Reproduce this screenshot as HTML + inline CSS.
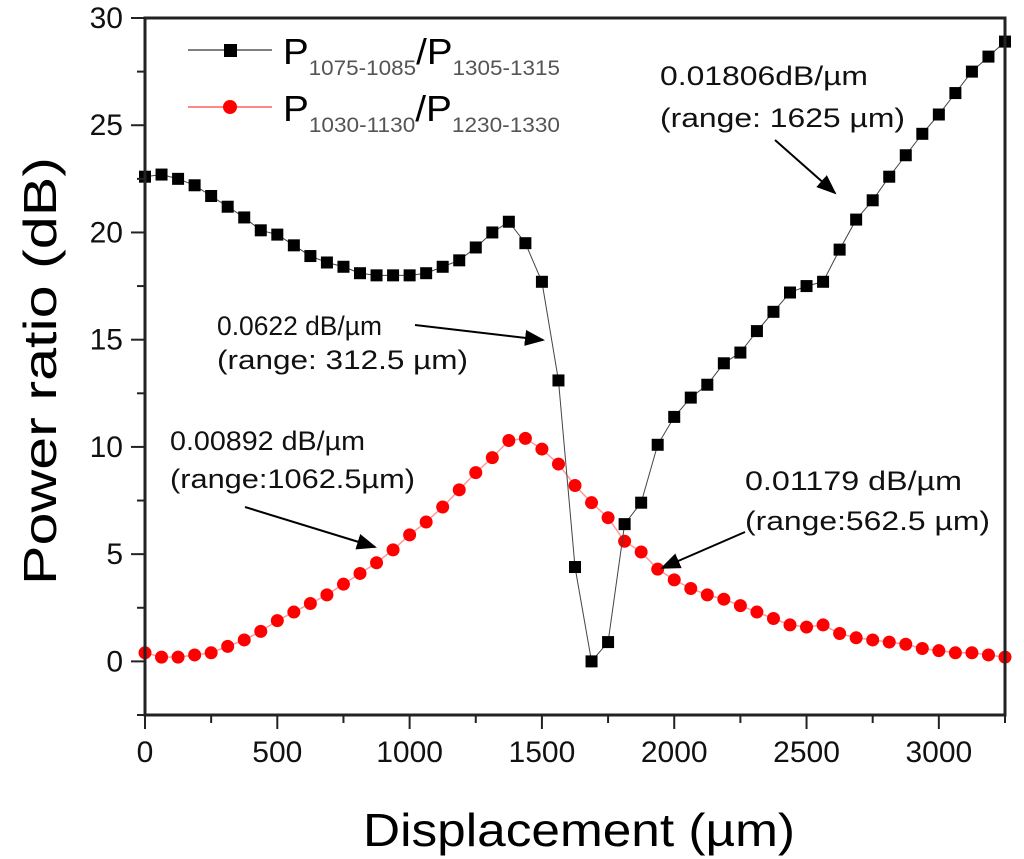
<!DOCTYPE html>
<html><head><meta charset="utf-8"><style>
html,body{margin:0;padding:0;background:#fff;}
svg{display:block;font-family:"Liberation Sans",Arial,sans-serif;}
</style></head><body>
<svg id="chart" width="1024" height="859" viewBox="0 0 1024 859">
<defs><marker id="ah" markerWidth="10" markerHeight="8" refX="9" refY="4" orient="auto"><path d="M0,0 L10,4 L0,8 z" fill="#000"/></marker></defs>
<g id="series"></g>
<g id="axes"></g>
<g>
  <g>
    <line x1="188" y1="50" x2="272" y2="50" stroke="#000" stroke-width="1"/>
    <rect x="224" y="44" width="13" height="13" fill="#000"/>
    <text x="283" y="64" font-size="36" fill="#000" textLength="277" lengthAdjust="spacingAndGlyphs">P<tspan font-size="21" fill="#555" dy="11">1075-1085</tspan><tspan dy="-11">/P</tspan><tspan font-size="21" fill="#555" dy="11">1305-1315</tspan></text>
  </g>
  <g>
    <line x1="188" y1="107" x2="272" y2="107" stroke="#f88" stroke-width="2"/>
    <circle cx="230" cy="107" r="7" fill="#f00"/>
    <text x="283" y="121" font-size="36" fill="#000" textLength="277" lengthAdjust="spacingAndGlyphs">P<tspan font-size="21" fill="#555" dy="11">1030-1130</tspan><tspan dy="-11">/P</tspan><tspan font-size="21" fill="#555" dy="11">1230-1330</tspan></text>
  </g>
</g>
<g font-size="27" fill="#111">
  <text x="660" y="85" textLength="208" lengthAdjust="spacingAndGlyphs">0.01806dB/µm</text>
  <text x="660" y="127" textLength="245" lengthAdjust="spacingAndGlyphs">(range: 1625 µm)</text>
  <line x1="775" y1="140" x2="835" y2="193" stroke="#000" stroke-width="2" marker-end="url(#ah)"/>
  <text x="217" y="335" textLength="165" lengthAdjust="spacingAndGlyphs">0.0622 dB/µm</text>
  <text x="217" y="369" textLength="251" lengthAdjust="spacingAndGlyphs">(range: 312.5 µm)</text>
  <line x1="415" y1="325" x2="543" y2="340" stroke="#000" stroke-width="2" marker-end="url(#ah)"/>
  <text x="170" y="450" textLength="195" lengthAdjust="spacingAndGlyphs">0.00892 dB/µm</text>
  <text x="170" y="488" textLength="245" lengthAdjust="spacingAndGlyphs">(range:1062.5µm)</text>
  <line x1="245" y1="507" x2="375" y2="547" stroke="#000" stroke-width="2" marker-end="url(#ah)"/>
  <text x="745" y="490" textLength="217" lengthAdjust="spacingAndGlyphs">0.01179 dB/µm</text>
  <text x="745" y="530" textLength="245" lengthAdjust="spacingAndGlyphs">(range:562.5 µm)</text>
  <line x1="745" y1="532" x2="662" y2="568" stroke="#000" stroke-width="2" marker-end="url(#ah)"/>
</g>
<text x="363" y="846" font-size="46" textLength="432" lengthAdjust="spacingAndGlyphs" fill="#000">Displacement (µm)</text>
<text transform="translate(56,585) rotate(-90)" font-size="46" textLength="428" lengthAdjust="spacingAndGlyphs" fill="#000">Power ratio (dB)</text>
</svg>
<script>
const xs = [0,62.5,125,187.5,250,312.5,375,437.5,500,562.5,625,687.5,750,812.5,875,937.5,1000,1062.5,1125,1187.5,1250,1312.5,1375,1437.5,1500,1562.5,1625,1687.5,1750,1812.5,1875,1937.5,2000,2062.5,2125,2187.5,2250,2312.5,2375,2437.5,2500,2562.5,2625,2687.5,2750,2812.5,2875,2937.5,3000,3062.5,3125,3187.5,3250];
const blackVals = [22.6,22.7,22.5,22.2,21.7,21.2,20.7,20.1,19.9,19.4,18.9,18.6,18.4,18.1,18.0,18.0,18.0,18.1,18.4,18.7,19.3,20.0,20.5,19.5,17.7,13.1,4.4,0.0,0.9,6.4,7.4,10.1,11.4,12.3,12.9,13.9,14.4,15.4,16.3,17.2,17.5,17.7,19.2,20.6,21.5,22.6,23.6,24.6,25.5,26.5,27.5,28.2,28.9];
const redVals = [0.4,0.2,0.2,0.3,0.4,0.7,1.0,1.4,1.9,2.3,2.7,3.1,3.6,4.1,4.6,5.2,5.9,6.5,7.2,8.0,8.8,9.5,10.3,10.4,9.9,9.2,8.2,7.4,6.7,5.6,5.1,4.3,3.8,3.4,3.1,2.9,2.6,2.3,2.0,1.7,1.6,1.7,1.3,1.1,1.0,0.9,0.8,0.6,0.5,0.4,0.4,0.3,0.2];
const xTicks = [0,500,1000,1500,2000,2500,3000];
const yTicks = [0,5,10,15,20,25,30];

const X0=145, X1=1005, Y0=715, Y1=18;
const xMin=0, xMax=3250, yMin=-2.5, yMax=30;
function sx(v){return X0+(v-xMin)/(xMax-xMin)*(X1-X0);}
function sy(v){return Y0-(v-yMin)/(yMax-yMin)*(Y0-Y1);}
const NS='http://www.w3.org/2000/svg';
function mk(tag,attrs,parent){const e=document.createElementNS(NS,tag);for(const k in attrs)e.setAttribute(k,attrs[k]);parent.appendChild(e);return e;}
const axes=document.getElementById('axes'), series=document.getElementById('series');

const frame=mk('rect',{x:X0,y:Y1,width:X1-X0,height:Y0-Y1,fill:'none',stroke:'#222','stroke-width':3},axes);


for(let v=0; v<=3250; v+=250){
  const major = v%500===0;
  const t=mk('line',{x1:sx(v),x2:sx(v),y1:Y0,y2:Y0+(major?14:8),stroke:'#222','stroke-width':2},axes);
  
  
}
xTicks.forEach(v=>{
  const t=mk('text',{x:sx(v),y:Y0+47,'font-size':30,'text-anchor':'middle',fill:'#111'},axes);
  t.textContent=v;
  
  
});
for(let v=-2.5; v<=30; v+=2.5){
  const major = Math.abs(v%5)<1e-9;
  const t=mk('line',{x1:X0-(major?14:8),x2:X0,y1:sy(v),y2:sy(v),stroke:'#222','stroke-width':2},axes);
  
  
}
yTicks.forEach(v=>{
  const t=mk('text',{x:X0-22,y:sy(v)+10,'font-size':30,'text-anchor':'end',fill:'#111'},axes);
  t.textContent=v;
  
  
});

const rl=mk('polyline',{points:xs.map((x,i)=>sx(x)+','+sy(redVals[i])).join(' '),fill:'none',stroke:'#f99','stroke-width':1.5},series);


xs.forEach((x,i)=>{
  const c=mk('circle',{cx:sx(x),cy:sy(redVals[i]),r:6.5,fill:'#f00'},series);
  
  
});
const bl=mk('polyline',{points:xs.map((x,i)=>sx(x)+','+sy(blackVals[i])).join(' '),fill:'none',stroke:'#444','stroke-width':1},series);


xs.forEach((x,i)=>{
  const r=mk('rect',{x:sx(x)-6,y:sy(blackVals[i])-6,width:12,height:12,fill:'#000'},series);
  
  
});
</script>
</body></html>
